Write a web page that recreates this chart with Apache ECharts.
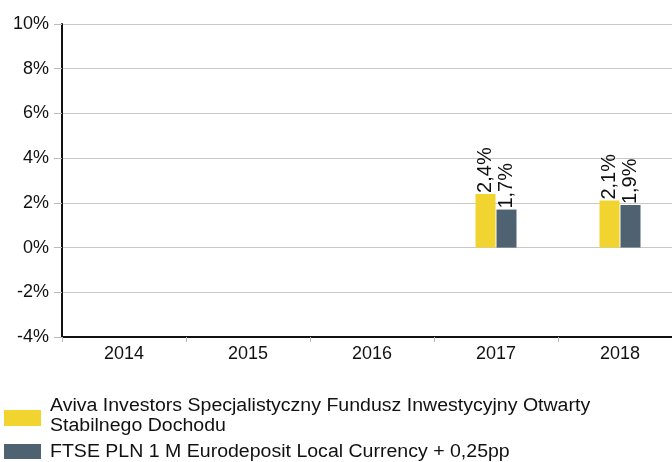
<!DOCTYPE html>
<html>
<head>
<meta charset="utf-8">
<script src="https://cdn.jsdelivr.net/npm/echarts@6/dist/echarts.min.js"></script>
<style>
  html, body { margin: 0; padding: 0; background: #fff; overflow: hidden; }
  /* wykres jest nieco szerszy niż okno: ostatnia kategoria wychodzi za prawą krawędź */
  #chart { width: 682px; height: 462px; }
</style>
</head>
<body>
<div id="chart"></div>
<script>
// dane wykresu
var years = ['2014', '2015', '2016', '2017', '2018'];
var fundName = 'Aviva Investors Specjalistyczny Fundusz Inwestycyjny Otwarty Stabilnego Dochodu';
var benchName = 'FTSE PLN 1 M Eurodeposit Local Currency + 0,25pp';
var fundValues = [null, null, null, 2.4, 2.1];
var benchValues = [null, null, null, 1.7, 1.9];
var fundColor = '#F2D430';
var benchColor = '#4F6272';

var chart = echarts.init(document.getElementById('chart'));

var fmtPct = function (v) {
    return String(v).replace('.', ',') + '%';
};

var barLabel = {
    show: true,
    position: 'top',
    rotate: 90,
    align: 'left',
    verticalAlign: 'middle',
    distance: 1,
    fontFamily: 'Liberation Sans, Arial',
    fontSize: 20,
    color: '#111',
    formatter: function (p) { return fmtPct(p.value); }
};

// legenda rysowana ręcznie - tekst lekko rozciągnięty jak w oryginale
var legendFont = '18px "Liberation Sans", Arial';
var legendText = function (txt, y) {
    return {
        type: 'text', x: 50, y: y, scaleX: 1.085,
        style: { text: txt, font: legendFont, fill: '#111', verticalAlign: 'middle' }
    };
};

var option = {
    animation: false,
    textStyle: { fontFamily: 'Liberation Sans, Arial' },
    grid: { left: 62, top: 24, right: 0, height: 313, containLabel: false },
    graphic: [
        { type: 'rect', shape: { x: 4, y: 410, width: 37, height: 16 }, style: { fill: fundColor } },
        legendText('Aviva Investors Specjalistyczny Fundusz Inwestycyjny Otwarty', 406.5),
        legendText('Stabilnego Dochodu', 426.5),
        { type: 'rect', shape: { x: 4, y: 444, width: 37, height: 15 }, style: { fill: benchColor } },
        legendText(benchName, 452.5)
    ],
    xAxis: {
        type: 'category',
        data: years,
        axisLine: { onZero: false, lineStyle: { color: '#111', width: 2 } },
        axisTick: { show: true, length: 5, lineStyle: { color: '#bbb' } },
        axisLabel: { fontSize: 18, color: '#111', margin: 8 }
    },
    yAxis: {
        type: 'value',
        min: -4,
        max: 10,
        interval: 2,
        axisLine: { show: true, lineStyle: { color: '#111', width: 2 } },
        axisTick: { show: true, length: 8, lineStyle: { color: '#bbb' } },
        splitLine: { lineStyle: { color: '#c8c8c8', width: 1 } },
        axisLabel: { fontSize: 18, color: '#111', margin: 13, formatter: function (v) { return v + '%'; } }
    },
    series: [
        {
            name: fundName,
            type: 'bar',
            data: fundValues,
            barWidth: 20,
            barGap: '5%',
            itemStyle: { color: fundColor },
            label: barLabel
        },
        {
            name: benchName,
            type: 'bar',
            data: benchValues,
            barWidth: 20,
            itemStyle: { color: benchColor },
            label: barLabel
        }
    ]
};

chart.setOption(option);
</script>
</body>
</html>
